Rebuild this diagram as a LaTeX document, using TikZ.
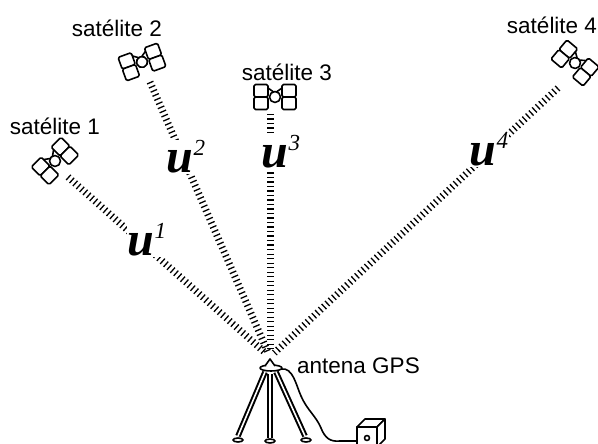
\documentclass[tikz,border=0pt]{standalone}
\usepackage{fontspec}
\setmainfont{Liberation Sans}
\newfontfamily\vecfont{Liberation Serif}

\tikzset{
  sattext/.style={font=\fontsize{22.5}{24}\selectfont, inner sep=0pt},
  vec/.style={font=\fontsize{48}{48}\selectfont\vecfont\bfseries\itshape, fill=white, inner sep=0.5pt},
  beam/.style={line width=7pt, dash pattern=on 1.3pt off 3.2pt, shorten >=6pt},
  outline/.style={line width=1.6pt, line join=round},
  panel/.style={outline, rounded corners=1.5pt, fill=white},
  leg/.style={line width=2pt, double=white, double distance=1.6pt},
  sat/.pic={
    \draw[panel] (-21,-12.5) rectangle (-7,0);
    \draw[panel] (-21,0) rectangle (-7,12.5);
    \draw[panel] (7,-12.5) rectangle (21,0);
    \draw[panel] (7,0) rectangle (21,12.5);
    \draw[outline] (-7,-9) -- (0,-4) -- (7,-9);
    \draw[outline, fill=white] (0,0) circle (5.5pt);
  }
}
\newcommand{\vsup}[1]{\raisebox{0.36em}{\fontsize{23}{23}\selectfont\mdseries #1}}

\begin{document}
\begin{tikzpicture}[x=1pt, y=-1pt]
  \clip (0,0) rectangle (598,444);
  \fill[white] (0,0) rectangle (598,444);

  % satellites
  \pic[rotate=45]  at (55,161)  {sat};
  \pic[rotate=20]  at (142,62)  {sat};
  \pic             at (275,97)  {sat};
  \pic[rotate=-40] at (575,63)  {sat};

  \node[sattext] (l1) at (55,126)  {satélite 1};
  \node[sattext] (l2) at (117,28)  {satélite 2};
  \node[sattext] (l3) at (287,72)  {satélite 3};
  \node[sattext] (l4) at (552,25)  {satélite 4};

  % signal paths
  \coordinate (b1) at (68,177);
  \coordinate (b2) at (150,82);
  \coordinate (b3) at (270,114);
  \coordinate (b4) at (558,88);
  \coordinate (ant) at (270,357);

  \draw[beam] (b1) -- (ant);
  \draw[beam] (b2) -- (ant);
  \draw[beam] (b3) -- (ant);
  \draw[beam] (b4) -- (ant);

  \node[vec] (u1) at (147,240) {u\vsup{1}};
  \node[vec] (u2) at (186,157) {u\vsup{2}};
  \node[vec] (u3) at (281,152) {u\vsup{3}};
  \node[vec] (u4) at (489,150) {u\vsup{4}};

  % receiver on tripod
  \draw[leg] (265,372) -- (238,436);
  \draw[leg] (270,374) -- (270,438);
  \draw[leg] (276,372) -- (305,436);
  \draw[outline, fill=white] (238,440) ellipse [x radius=5pt, y radius=2pt];
  \draw[outline, fill=white] (270,441) ellipse [x radius=5pt, y radius=2pt];
  \draw[outline, fill=white] (306,440) ellipse [x radius=5pt, y radius=2pt];
  \draw[outline, fill=white] (271,368) ellipse [x radius=11pt, y radius=3pt];
  \draw[outline, fill=white] (265,366) -- (270,359) -- (275,366);

  \node[sattext, anchor=west] (gps) at (297,366) {antena GPS};

  % cable and controller
  \coordinate (c0) at (281,369);
  \coordinate (box) at (357,441);
  \draw[outline] (c0) .. controls (293,367) and (296,385) .. (301,396)
    .. controls (307,410) and (316,416) .. (321,428)
    .. controls (325,438) and (330,442) .. (340,441) -- (box);
  \draw[outline, fill=white] (357,427) rectangle (377,447);
  \draw[outline, fill=white] (357,427) -- (365,419) -- (385,419) -- (377,427) -- cycle;
  \draw[outline, fill=white] (377,427) -- (385,419) -- (385,439) -- (377,447) -- cycle;
  \draw[outline] (367,438) circle (2.5pt);
\end{tikzpicture}
\end{document}
